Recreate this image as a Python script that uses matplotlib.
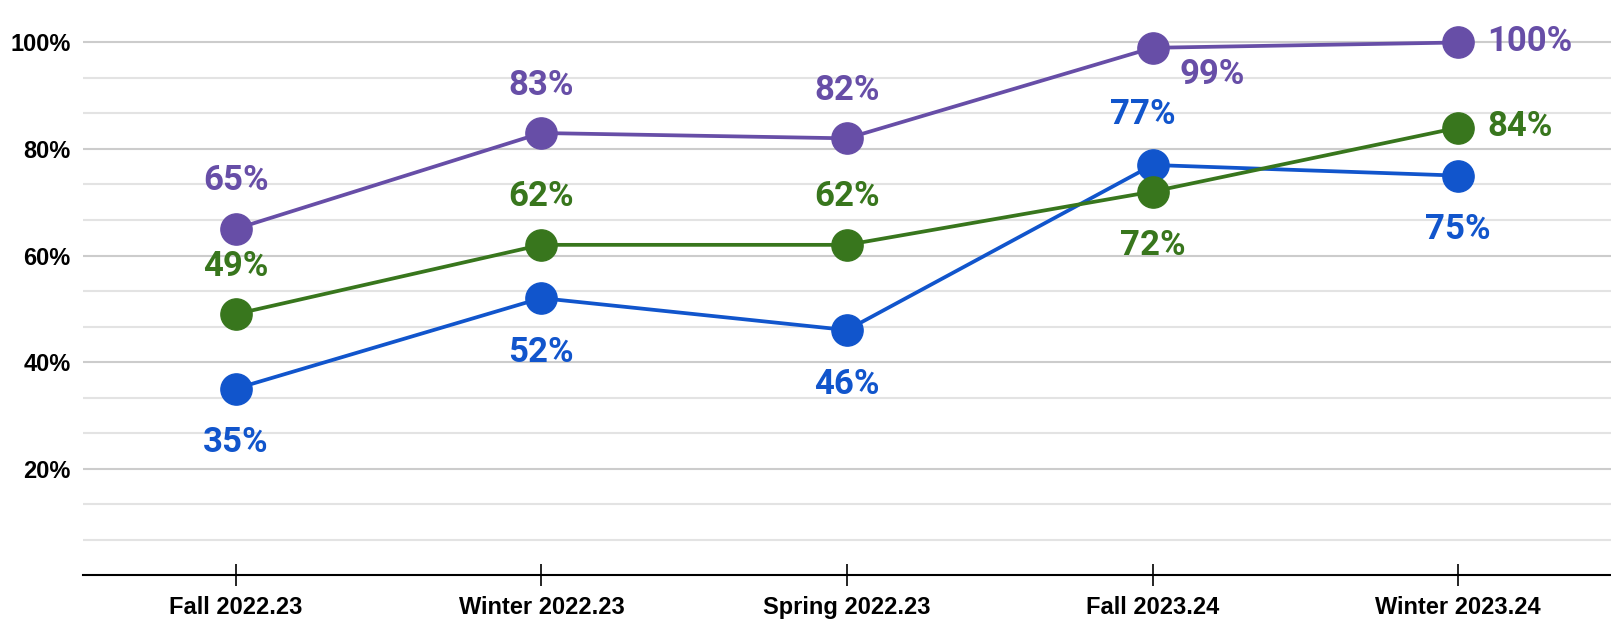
import matplotlib.pyplot as plt
import numpy as np

terms = ['Fall 2022.23', 'Winter 2022.23', 'Spring 2022.23', 'Fall 2023.24', 'Winter 2023.24']
blue_vals = [35, 52, 46, 77, 75]
green_vals = [49, 62, 62, 72, 84]
purple_vals = [65, 83, 82, 99, 100]

# label placement per point
blue_pos = ['below', 'below', 'below', 'aboveleft', 'below']
green_pos = ['above', 'above', 'above', 'below', 'right']
purple_pos = ['above', 'above', 'above', 'belowright', 'right']

series = [
    (blue_vals, blue_pos, '#1155cc'),
    (green_vals, green_pos, '#38761d'),
    (purple_vals, purple_pos, '#674ea7'),
]

offsets = {
    'above': ((0, 48), 'center', 'center'),
    'aboveleft': ((-10, 50), 'center', 'center'),
    'below': ((0, -54), 'center', 'center'),
    'right': ((29, 1), 'left', 'center'),
    'belowright': ((60, -27), 'center', 'center'),
}

fig = plt.figure(figsize=(16.11, 6.23), dpi=100)
ax = fig.add_axes([0.0515, 0.077, 0.9485, 0.9118])

x = np.arange(len(terms))
ax.set_xlim(-0.5, 4.5)
ax.set_ylim(0, 320 / 3)

# gridlines
for g in np.arange(1, 16) * 20 / 3:
    major = abs(g / 20 - round(g / 20)) < 1e-6
    ax.axhline(g, color='#cccccc' if major else '#e3e3e3', lw=1.5, zorder=0)

for vals, pos, col in series:
    ax.plot(x, vals, color=col, lw=2.7, marker='o', ms=22.5, zorder=3)
    for xi, v, p in zip(x, vals, pos):
        off, ha, va = offsets[p]
        ax.annotate(f'{v}%', (xi, v), xytext=off, textcoords='offset pixels',
                    ha=ha, va=va, color=col, fontsize=25, fontweight='bold',
                    family='Roboto', zorder=4)

ax.set_yticks([20, 40, 60, 80, 100])
ax.set_yticklabels([f'{t}%' for t in [20, 40, 60, 80, 100]])
ax.tick_params(axis='y', length=0, pad=9, labelsize=17)
ax.set_xticks(x)
ax.set_xticklabels(terms)
ax.tick_params(axis='x', direction='inout', length=16.5, width=1.2, pad=7, labelsize=17)
for lab in ax.get_xticklabels() + ax.get_yticklabels():
    lab.set_fontweight('bold')
    lab.set_family('Liberation Sans')

for s in ['top', 'right', 'left']:
    ax.spines[s].set_visible(False)
ax.spines['bottom'].set_linewidth(1.5)
ax.spines['bottom'].set_zorder(5)

fig.savefig('out.png', dpi=100)
